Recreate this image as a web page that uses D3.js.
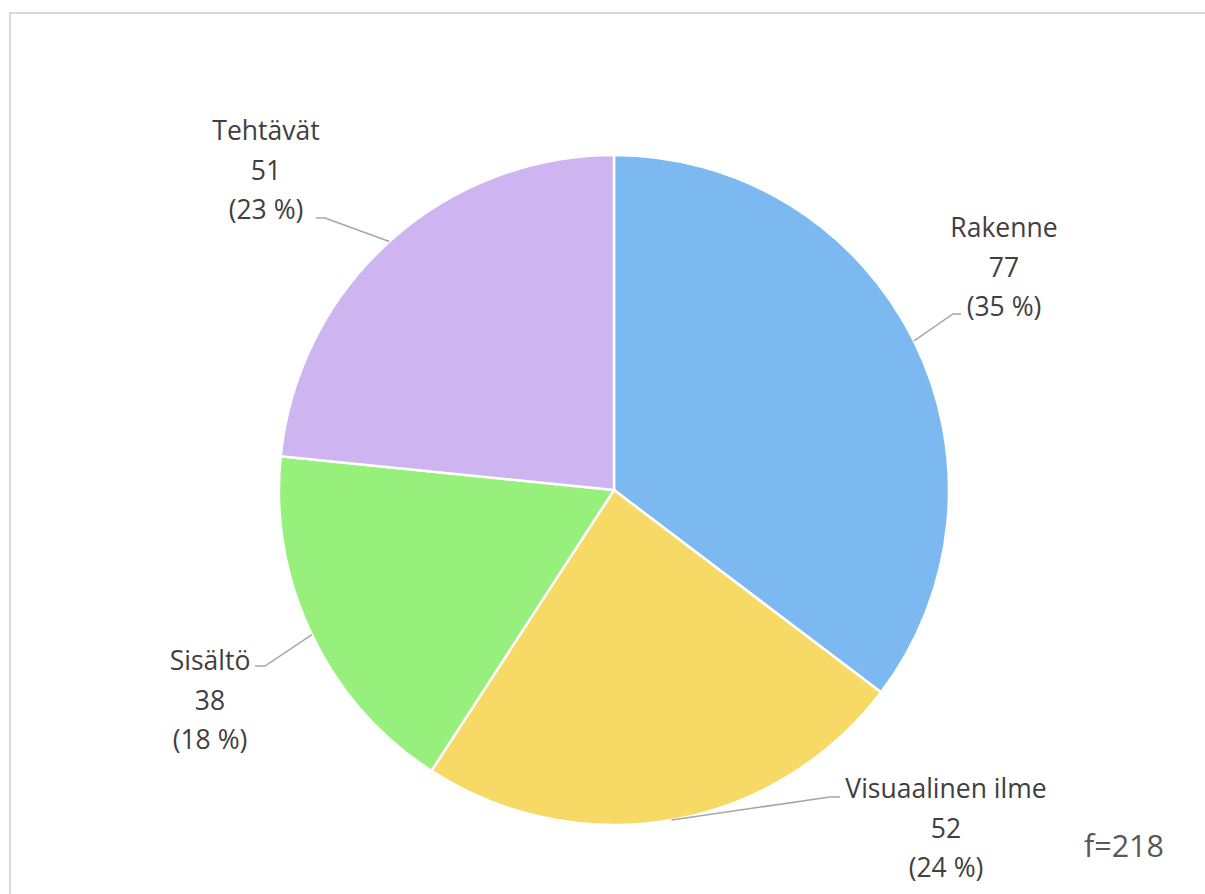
<!DOCTYPE html>
<html>
<head>
<meta charset="utf-8">
<script src="https://cdn.jsdelivr.net/npm/d3@7"></script>
<style>
  html, body { margin: 0; padding: 0; background: #ffffff; }
  svg { display: block; }
</style>
</head>
<body>
<svg id="chart" width="1205" height="894"></svg>
<script>
// Palaute-aineiston luokat ja niiden lukumäärät
const categories = ["Rakenne", "Visuaalinen ilme", "Sisältö", "Tehtävät"];
const counts = [77, 52, 38, 51];
const percentLabels = ["35 %", "24 %", "18 %", "23 %"];
const colors = ["#7cb9f0", "#f6da65", "#98f07c", "#ceb4f0"];
const totalLabel = "f=218";

const width = 1205, height = 894;
const cx = 614, cy = 490, radius = 335;

const svg = d3.select("#chart");

// chart frame
svg.append("rect")
  .attr("x", 10).attr("y", 13)
  .attr("width", 1205).attr("height", 900)
  .attr("fill", "none")
  .attr("stroke", "#d9d9d9")
  .attr("stroke-width", 2);

const data = categories.map((c, i) => ({ name: c, value: counts[i], pct: percentLabels[i], color: colors[i] }));

const pie = d3.pie().value(d => d.value).sort(null);
const arcs = pie(data);
const arc = d3.arc().innerRadius(0).outerRadius(radius);

const g = svg.append("g").attr("transform", `translate(${cx},${cy})`);

g.selectAll("path.slice")
  .data(arcs)
  .join("path")
  .attr("class", "slice")
  .attr("d", arc)
  .attr("fill", d => d.data.color)
  .attr("stroke", "#ffffff")
  .attr("stroke-width", 2.5)
  .attr("stroke-linejoin", "round");

// label placement: text block center and leader-line elbow, per category
const labelLayout = {
  "Rakenne":          { x: 1004, y: 237, elbow: [953, 314], end: [961, 314] },
  "Visuaalinen ilme": { x: 946,  y: 798, elbow: [830, 797], end: [840, 797] },
  "Sisältö":          { x: 210,  y: 670, elbow: [265, 666], end: [255, 666] },
  "Tehtävät":         { x: 266,  y: 140, elbow: [325, 218], end: [316, 218] }
};

const leaderLine = d3.line();

arcs.forEach(a => {
  const L = labelLayout[a.data.name];
  const mid = (a.startAngle + a.endAngle) / 2;
  const px = cx + radius * Math.sin(mid);
  const py = cy - radius * Math.cos(mid);

  svg.append("path")
    .attr("d", leaderLine([[px, py], L.elbow, L.end]))
    .attr("fill", "none")
    .attr("stroke", "#a6a6a6")
    .attr("stroke-width", 1.5);

  const t = svg.append("text")
    .attr("x", L.x)
    .attr("y", L.y)
    .attr("text-anchor", "middle")
    .attr("font-family", "'Open Sans', sans-serif")
    .attr("font-size", 26.5)
    .attr("fill", "#404040");
  [a.data.name, String(a.data.value), `(${a.data.pct})`].forEach((line, i) => {
    t.append("tspan")
      .attr("x", L.x)
      .attr("dy", i === 0 ? 0 : 39.5)
      .text(line);
  });
});

svg.append("text")
  .attr("x", 1124)
  .attr("y", 857)
  .attr("text-anchor", "middle")
  .attr("font-family", "'Open Sans', sans-serif")
  .attr("font-size", 30.5)
  .attr("fill", "#595959")
  .text(totalLabel);
</script>
</body>
</html>
